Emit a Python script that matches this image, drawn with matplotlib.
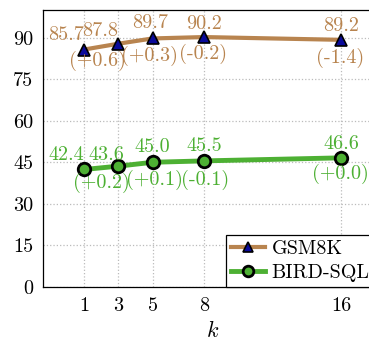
import matplotlib
matplotlib.use("Agg")
import matplotlib.pyplot as plt

# data
k = [1, 3, 5, 8, 16]
gsm8k = [85.7, 87.8, 89.7, 90.2, 89.2]
gsm8k_delta = ["(+0.6)", "(+0.3)", "(-0.2)", "(-1.4)"]
bird = [42.4, 43.6, 45.0, 45.5, 46.6]
bird_delta = ["(+0.2)", "(+0.1)", "(-0.1)", "(+0.0)"]
yticks = [0, 15, 30, 45, 60, 75, 90]

brown = "#B8844F"
green = "#4DB033"

plt.rcParams["font.family"] = "cmr10"
plt.rcParams["mathtext.fontset"] = "cm"
plt.rcParams["axes.formatter.use_mathtext"] = True

fig = plt.figure(figsize=(3.69, 3.42), dpi=100)
ax = fig.add_axes([0.1165, 0.161, 0.919, 0.81])

ax.plot(k, gsm8k, color=brown, lw=3, marker="^", ms=8,
        mfc="#0A0A9A", mec="black", mew=1.2, label="GSM8K", zorder=3)
ax.plot(k, bird, color=green, lw=3.5, marker="o", ms=9,
        mfc=green, mec="black", mew=2, label="BIRD-SQL", zorder=3)

# value labels (offsets in pixels)
g_val_off = [(-18, 14), (-18, 13), (-2, 15), (0, 13), (0, 14)]
g_del_off = [(-21, -17), (-3, -17), (-1, -17), (-1, -18)]
b_val_off = [(-18, 14), (-12, 11), (0, 15), (0, 15), (0, 14)]
b_del_off = [(-17, -17), (2, -18), (1, -19), (-1, -16)]
fs = 14.5

for i, (x, y) in enumerate(zip(k, gsm8k)):
    ax.annotate(f"{y:.1f}", (x, y), xytext=g_val_off[i], textcoords="offset pixels",
                ha="center", va="center", color=brown, fontsize=fs)
for i, (x, y) in enumerate(zip(k[1:], gsm8k[1:])):
    ax.annotate(gsm8k_delta[i], (x, y), xytext=g_del_off[i], textcoords="offset pixels",
                ha="center", va="center", color=brown, fontsize=fs)
for i, (x, y) in enumerate(zip(k, bird)):
    ax.annotate(f"{y:.1f}", (x, y), xytext=b_val_off[i], textcoords="offset pixels",
                ha="center", va="center", color=green, fontsize=fs)
for i, (x, y) in enumerate(zip(k[1:], bird[1:])):
    ax.annotate(bird_delta[i], (x, y), xytext=b_del_off[i], textcoords="offset pixels",
                ha="center", va="center", color=green, fontsize=fs)

ax.set_xlim(-1.4, 18.4)
ax.set_ylim(0, 100)
ax.set_xticks(k)
ax.set_xticklabels([str(v) for v in k])
ax.set_yticks(yticks)
ax.set_yticklabels([str(v) for v in yticks])
ax.tick_params(length=0, labelsize=fs, pad=7)
ax.grid(True, color="#BBBBBB", linestyle=":", lw=0.9)
ax.set_axisbelow(True)
for s in ax.spines.values():
    s.set_linewidth(0.9)
ax.set_xlabel("$k$", fontsize=16, labelpad=4)

leg = ax.legend(loc="lower left", bbox_to_anchor=(0.54, 0.0), borderaxespad=0,
                fontsize=fs, fancybox=False, edgecolor="black", framealpha=1,
                handlelength=1.7, handletextpad=0.3, labelspacing=0.3,
                borderpad=0.25, markerscale=0.85)
leg.get_frame().set_linewidth(0.9)

fig.savefig("out.png", dpi=100)
